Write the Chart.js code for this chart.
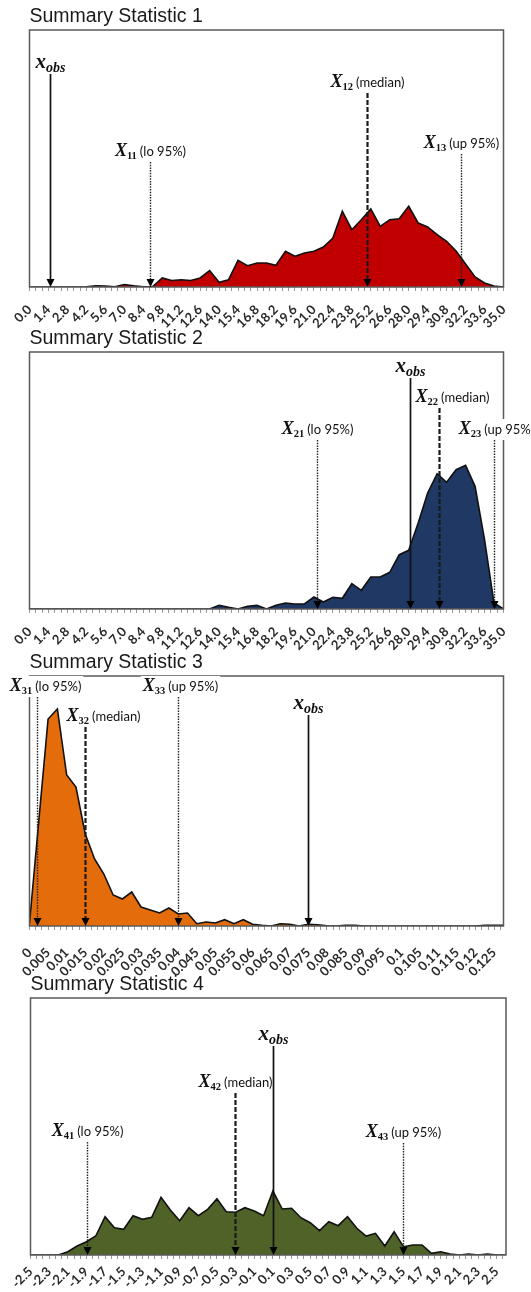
<!DOCTYPE html>
<html>
<head>
<meta charset="utf-8">
<script src="https://cdn.jsdelivr.net/npm/chart.js@4.4.1/dist/chart.umd.min.js"></script>
<style>
    html, body { margin: 0; padding: 0; background: #fff; }
    #wrap { position: relative; width: 531px; height: 1292px; overflow: hidden; }
    #wrap canvas { position: absolute; left: 0; }
</style>
</head>
<body>
<div id="wrap">
    <canvas id="stat1" width="531" height="340" style="top:0px"></canvas>
    <canvas id="stat2" width="531" height="340" style="top:322px"></canvas>
    <canvas id="stat3" width="531" height="340" style="top:646px"></canvas>
    <canvas id="stat4" width="531" height="340" style="top:968px"></canvas>
</div>
<script>
// DATA

const bins12 = [0.0, 0.7, 1.4, 2.1, 2.8, 3.5, 4.2, 4.9, 5.6, 6.3, 7.0, 7.7, 8.4, 9.1, 9.8, 10.5, 11.2, 11.9, 12.6, 13.3,
    14.0, 14.7, 15.4, 16.1, 16.8, 17.5, 18.2, 18.9, 19.6, 20.3, 21.0, 21.7, 22.4, 23.1, 23.8, 24.5, 25.2, 25.9, 26.6, 27.3,
    28.0, 28.7, 29.4, 30.1, 30.8, 31.5, 32.2, 32.9, 33.6, 34.3, 35.0];
const ticks12 = ['0.0', '1.4', '2.8', '4.2', '5.6', '7.0', '8.4', '9.8', '11.2', '12.6', '14.0', '15.4', '16.8', '18.2',
    '19.6', '21.0', '22.4', '23.8', '25.2', '26.6', '28.0', '29.4', '30.8', '32.2', '33.6', '35.0'];

const stat1 = [0, 0, 0, 0, 0, 0, 0.3, 1.2, 1.0, 0.3, 2.5, 1.2, 0.3, 0.5, 9, 6.5, 7.3, 6.5, 9, 16.5,
    4.7, 7.3, 26.7, 21.3, 24, 24, 21.7, 35.7, 30.7, 34, 35.7, 40, 49, 75.7, 57.3, 67.3, 78, 60.7, 67.3, 68.3,
    80.7, 64, 60, 52.3, 45.7, 36, 23, 10, 4, 1, 0];

const stat2 = [0, 0, 0, 0, 0, 0, 0, 0, 0, 0, 0, 0, 0, 0, 0, 0, 0, 0, 0, 0,
    3.7, 1.7, 0, 2.7, 3.7, 0, 3.7, 6, 5, 5, 12, 7, 11.7, 10.7, 25.3, 18.7, 32, 32, 36.7, 54.3,
    58.7, 86, 116, 135.3, 126.7, 139.3, 143.7, 122.7, 69.3, 6, 0];

const bins3 = [0, 0.0025, 0.005, 0.0075, 0.01, 0.0125, 0.015, 0.0175, 0.02, 0.0225, 0.025, 0.0275, 0.03, 0.0325,
    0.035, 0.0375, 0.04, 0.0425, 0.045, 0.0475, 0.05, 0.0525, 0.055, 0.0575, 0.06, 0.0625, 0.065, 0.0675, 0.07, 0.0725,
    0.075, 0.0775, 0.08, 0.0825, 0.085, 0.0875, 0.09, 0.0925, 0.095, 0.0975, 0.1, 0.1025, 0.105, 0.1075, 0.11, 0.1125,
    0.115, 0.1175, 0.12, 0.1225, 0.125, 0.1275];
const ticks3 = ['0', '0.005', '0.01', '0.015', '0.02', '0.025', '0.03', '0.035', '0.04', '0.045', '0.05', '0.055', '0.06',
    '0.065', '0.07', '0.075', '0.08', '0.085', '0.09', '0.095', '0.1', '0.105', '0.11', '0.115', '0.12', '0.125'];
const stat3 = [3, 105, 207, 217, 151, 139, 92, 67, 52, 31, 27, 34, 19, 16, 13, 18, 12, 13, 2.3, 4,
    3, 6.3, 2.3, 6.3, 1.7, 0.7, 0, 2.3, 1.7, 0, 1.7, 1.3, 0.3, 0, 0.7, 0.7, 0, 0, 0, 0,
    0, 0, 0, 0, 0, 0, 0, 0, 0, 0.7, 0.7, 0.7];

const bins4 = [-2.5, -2.4, -2.3, -2.2, -2.1, -2.0, -1.9, -1.8, -1.7, -1.6, -1.5, -1.4, -1.3, -1.2, -1.1, -1.0, -0.9,
    -0.8, -0.7, -0.6, -0.5, -0.4, -0.3, -0.2, -0.1, 0.0, 0.1, 0.2, 0.3, 0.4, 0.5, 0.6, 0.7, 0.8, 0.9, 1.0, 1.1, 1.2, 1.3,
    1.4, 1.5, 1.6, 1.7, 1.8, 1.9, 2.0, 2.1, 2.2, 2.3, 2.4, 2.5, 2.6];
const ticks4 = ['-2.5', '-2.3', '-2.1', '-1.9', '-1.7', '-1.5', '-1.3', '-1.1', '-0.9', '-0.7', '-0.5', '-0.3', '-0.1',
    '0.1', '0.3', '0.5', '0.7', '0.9', '1.1', '1.3', '1.5', '1.7', '1.9', '2.1', '2.3', '2.5'];
const stat4 = [0, 0, 0, 0, 3.3, 9, 13.3, 19, 38.3, 27.3, 25.7, 39.3, 35.7, 37.7, 57.7, 45, 34.3, 47.3, 39.3, 45.7,
    56.3, 43.3, 42.7, 47.3, 44, 39.3, 64, 46, 46.7, 37.3, 32.3, 24.3, 33.3, 29.3, 38.3, 26.7, 19, 21.7, 9, 23.3,
    8.3, 10, 10, 1.7, 3.3, 1, 0, 1, 0, 1, 0, 0];

// markers: where the arrow sits on the x axis, and how high its line starts
const markers1 = [
    { kind: 'obs', at: 1.5, top: 213 },
    { kind: 'ci', at: 8.9, top: 125, sub: '11', note: '(lo 95%)' },
    { kind: 'median', at: 24.95, top: 194, sub: '12', note: '(median)' },
    { kind: 'ci', at: 31.85, top: 133, sub: '13', note: '(up 95%)' }
];
const markers2 = [
    { kind: 'ci', at: 21.25, top: 169, sub: '21', note: '(lo 95%)' },
    { kind: 'obs', at: 28.1, top: 231 },
    { kind: 'median', at: 30.25, top: 201, sub: '22', note: '(median)', dx: 13 },
    { kind: 'ci', at: 34.3, top: 169, sub: '23', note: '(up 95%)', dx: 2 }
];
const markers3 = [
    { kind: 'ci', at: 0.0019, top: 229, sub: '31', note: '(lo 95%)', dx: 8 },
    { kind: 'median', at: 0.015, top: 199, sub: '32', note: '(median)', dx: 18 },
    { kind: 'ci', at: 0.0399, top: 229, sub: '33', note: '(up 95%)', dx: 2 },
    { kind: 'obs', at: 0.075, top: 211 }
];
const markers4 = [
    { kind: 'ci', at: -1.89, top: 113, sub: '41', note: '(lo 95%)' },
    { kind: 'median', at: -0.31, top: 162, sub: '42', note: '(median)' },
    { kind: 'obs', at: 0.1, top: 209 },
    { kind: 'ci', at: 1.49, top: 112, sub: '43', note: '(up 95%)' }
];

// DRAWING

const lineStyles = {
    obs: { dash: [], width: 1.7, color: '#111' },
    median: { dash: [5, 2], width: 2.2, color: '#1a1a1a' },
    ci: { dash: [1.5, 1.2], width: 1.4, color: '#222' }
};

function drawLabel(ctx, m, cx, base) {
    const parts = m.kind === 'obs'
        ? [['x', 'italic bold 21px "Liberation Serif"', 0, 0], ['obs', 'italic bold 14px "Liberation Serif"', 4, 0]]
        : [['X', 'italic bold 18px "Liberation Serif"', 0, 0], [m.sub, 'bold 10.5px "Liberation Serif"', 3, 0],
           [m.note, '13px Lato', 0, 3]];
    let total = 0;
    const widths = parts.map(p => {
        ctx.font = p[1];
        const w = ctx.measureText(p[0]).width + p[3];
        total += w;
        return w;
    });
    let left = cx - total / 2 + (m.dx || 0);
    ctx.fillStyle = '#fff';
    ctx.fillRect(left - 2, base - 15, total + 4, 21);
    ctx.fillStyle = '#111';
    ctx.textAlign = 'left';
    ctx.textBaseline = 'alphabetic';
    parts.forEach((p, i) => {
        ctx.font = p[1];
        ctx.fillText(p[0], left + p[3], base + p[2]);
        left += widths[i];
    });
}

function markerPlugin(markers) {
    return {
        id: 'markers',
        afterDatasetsDraw(chart) {
            const { ctx, chartArea: a, scales: { x, y } } = chart;
            ctx.save();
            ctx.strokeStyle = '#5a5a5a';
            ctx.lineWidth = 1.5;
            ctx.strokeRect(a.left, a.top, a.right - a.left, a.bottom - a.top);

            markers.forEach(m => {
                const px = Math.round(x.getPixelForValue(m.at)) + 0.5;
                drawLabel(ctx, m, px, y.getPixelForValue(m.top) - 6);
            });

            markers.forEach(m => {
                const px = Math.round(x.getPixelForValue(m.at)) + 0.5;
                const top = y.getPixelForValue(m.top);
                const s = lineStyles[m.kind];
                ctx.beginPath();
                ctx.setLineDash(s.dash);
                ctx.lineWidth = s.width;
                ctx.strokeStyle = s.color;
                ctx.moveTo(px, top);
                ctx.lineTo(px, a.bottom - 5);
                ctx.stroke();
                ctx.setLineDash([]);
                ctx.fillStyle = '#000';
                ctx.beginPath();
                ctx.moveTo(px - 4, a.bottom - 8);
                ctx.lineTo(px + 4, a.bottom - 8);
                ctx.lineTo(px, a.bottom);
                ctx.closePath();
                ctx.fill();
            });
            ctx.restore();
        }
    };
}

// major ticks carry the labels, two minor ticks sit between each pair
function tickList(labels, max) {
    const out = [];
    for (let k = 0; k < labels.length; k++) {
        const v = parseFloat(labels[k]);
        out.push({ value: v, name: labels[k] });
        const next = k + 1 < labels.length ? parseFloat(labels[k + 1]) : 2 * v - parseFloat(labels[k - 1]);
        for (let s = 1; s < 3; s++) {
            const t = v + s * (next - v) / 3;
            if (t <= max + 1e-9) out.push({ value: t });
        }
    }
    return out;
}

function makeChart(id, title, bins, values, tickLabels, xMin, xMax, boxH, color, markers, padL, padR, labelGap) {
    const canvas = document.getElementById(id);
    const axisH = 52;
    return new Chart(canvas.getContext('2d'), {
        type: 'line',
        data: {
            datasets: [{
                data: bins.map((b, i) => ({ x: b, y: values[i] })),
                borderColor: '#111',
                borderWidth: 1.6,
                backgroundColor: color,
                fill: 'origin',
                pointRadius: 0,
                tension: 0
            }]
        },
        options: {
            responsive: false,
            animation: false,
            layout: { padding: { left: padL, right: padR, top: 0, bottom: canvas.height - 30 - boxH - axisH } },
            plugins: {
                legend: { display: false },
                tooltip: { enabled: false },
                title: {
                    display: true,
                    text: title,
                    align: 'start',
                    color: '#1a1a1a',
                    font: { family: '"Liberation Sans", Arial, sans-serif', size: 19.5, weight: 'normal', lineHeight: 1.2 },
                    padding: { top: 5.2, bottom: 1.4 }
                }
            },
            scales: {
                x: {
                    type: 'linear',
                    min: xMin,
                    max: xMax,
                    border: { display: false },
                    grid: { drawOnChartArea: false, drawTicks: true, tickLength: 4, color: '#999', lineWidth: 1 },
                    afterBuildTicks: scale => { scale.ticks = tickList(tickLabels, xMax); },
                    afterFit: scale => { scale.height = axisH; scale.paddingLeft = 0; scale.paddingRight = 0; },
                    ticks: {
                        autoSkip: false,
                        minRotation: 45,
                        maxRotation: 45,
                        padding: labelGap,
                        color: '#2a2a2a',
                        font: { family: 'Lato, sans-serif', size: 13, weight: 'bold' },
                        callback: (v, i, t) => t[i].name || ''
                    }
                },
                y: { display: false, min: 0, max: boxH }
            }
        },
        plugins: [markerPlugin(markers)]
    });
}

function init() {
    makeChart('stat1', 'Summary Statistic 1', bins12, stat1, ticks12, 0, 35, 257, '#C00000', markers1, 29.5, 27.5, 11);
    makeChart('stat2', 'Summary Statistic 2', bins12, stat2, ticks12, 0, 35, 257, '#1F3864', markers2, 29.5, 27.5, 11);
    makeChart('stat3', 'Summary Statistic 3', bins3, stat3, ticks3, 0, 0.1275, 250, '#E46C0A', markers3, 29.5, 27.5, 15);
    makeChart('stat4', 'Summary Statistic 4', bins4, stat4, ticks4, -2.5, 2.6, 257, '#4F6228', markers4, 30.5, 25, 5);
}

Promise.all([
    document.fonts.load('13px Lato'),
    document.fonts.load('bold 13px Lato'),
    document.fonts.load('italic bold 16px "Liberation Serif"'),
    document.fonts.load('bold 10px "Liberation Serif"'),
    document.fonts.load('19px "Liberation Sans"')
]).then(init, init);
</script>
</body>
</html>
